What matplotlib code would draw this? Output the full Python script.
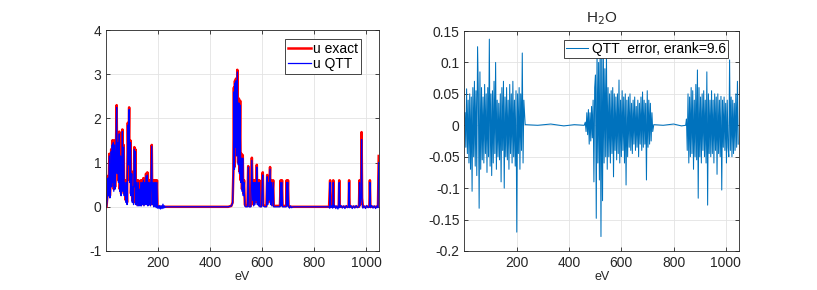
import numpy as np
import matplotlib
matplotlib.use("Agg")
from matplotlib import pyplot as plt
from matplotlib.ticker import FuncFormatter

# ---- left panel: spectrum (eV, value) vertices
u_exact = [
    (2, 0.0), (6, 0.3), (8, 0.7), (10, 0.3), (13, 1.2), (15, 0.25), (18, 0.6), (20, 1.3),
    (22, 0.5), (24, 1.5), (26, 0.6), (28, 1.5), (30, 0.4), (33, 1.5), (35, 0.45), (38, 1.2),
    (41, 2.3), (43, 0.8), (46, 1.5), (48, 0.6), (51, 1.7), (53, 0.4), (56, 1.2), (58, 0.3),
    (61, 0.9), (63, 1.75), (65, 0.4), (68, 1.4), (70, 0.3), (73, 0.6), (76, 0.15), (79, 0.6),
    (81, 0.1), (84, 1.9), (86, 1.0), (89, 2.25), (91, 0.6), (94, 1.5), (96, 0.3), (99, 0.8),
    (101, 0.15), (104, 0.5), (106, 0.1), (109, 1.35), (111, 0.5), (113, 1.3), (115, 0.1),
    (118, 0.6), (120, 0.05), (124, 0.6), (126, 0.05), (129, 0.45), (131, 0.05), (134, 0.6),
    (136, 0.05), (139, 0.6), (141, 0.1), (144, 0.65), (146, 0.05), (149, 0.6), (151, 0.1),
    (154, 0.75), (156, 0.1), (159, 0.78), (161, 0.05), (164, 0.6), (166, 0.1), (169, 0.6),
    (171, 0.05), (176, 1.4), (178, 0.1), (181, 0.6), (183, 0.05), (186, 0.6), (188, 0.05),
    (191, 0.6), (193, 0.02), (196, 0.6), (198, 0.02), (201, 0.0), (470, 0.0), (482, 0.02),
    (487, 0.1), (490, 0.8), (492, 2.7), (494, 0.9), (496, 2.85), (498, 1.4), (500, 2.9),
    (502, 1.2), (505, 3.1), (508, 1.0), (511, 2.45), (513, 0.8), (516, 2.4), (518, 0.6),
    (521, 1.2), (523, 0.4), (526, 1.17), (528, 0.3), (531, 0.6), (534, 0.05), (537, 0.02),
    (544, 0.02), (547, 0.92), (550, 0.02), (557, 0.02), (561, 1.11), (564, 0.2), (566, 0.6),
    (568, 0.05), (571, 0.6), (573, 0.1), (576, 0.6), (578, 0.2), (580, 0.95), (582, 0.1),
    (585, 0.6), (587, 0.05), (590, 0.6), (592, 0.02), (598, 0.02), (601, 0.6), (603, 0.78),
    (605, 0.05), (610, 0.02), (617, 0.02), (620, 0.72), (622, 0.1), (625, 0.6), (627, 0.2),
    (631, 0.9), (633, 0.1), (636, 0.6), (638, 0.05), (643, 0.6), (645, 0.02), (669, 0.02),
    (672, 0.6), (674, 0.05), (677, 0.6), (679, 0.02), (693, 0.02), (695, 0.6), (697, 0.05),
    (700, 0.6), (702, 0.02), (710, 0.0), (858, 0.0), (862, 0.6), (864, 0.0), (872, 0.0),
    (874, 0.6), (876, 0.0), (895, 0.0), (897, 0.6), (899, 0.0), (933, 0.0), (935, 0.6),
    (937, 0.0), (973, 0.0), (975, 0.6), (977, 0.05), (981, 0.3), (983, 1.69), (985, 0.2),
    (988, 0.0), (1013, 0.0), (1015, 0.6), (1017, 0.0), (1046, 0.0), (1049, 1.15),
]

u_qtt = [
    (2, 0.0), (6, 0.25), (8, 0.65), (10, 0.25), (13, 1.15), (15, 0.2), (18, 0.55), (20, 1.25),
    (22, 0.45), (24, 1.4), (26, 0.55), (28, 1.45), (30, 0.35), (33, 1.4), (35, 0.4), (38, 1.15),
    (41, 2.25), (43, 0.75), (46, 1.45), (48, 0.55), (51, 1.65), (53, 0.35), (56, 1.15), (58, 0.25),
    (61, 0.85), (63, 1.7), (65, 0.35), (68, 1.35), (70, 0.25), (73, 0.55), (76, 0.1), (79, 0.55),
    (81, 0.05), (84, 1.85), (86, 0.95), (89, 2.2), (91, 0.55), (94, 1.45), (96, 0.25), (99, 0.75),
    (101, 0.1), (104, 0.45), (106, 0.05), (109, 1.3), (111, 0.45), (113, 1.25), (115, 0.05),
    (118, 0.55), (120, 0.02), (124, 0.55), (126, 0.02), (129, 0.4), (131, 0.02), (134, 0.55),
    (136, 0.02), (139, 0.55), (141, 0.05), (144, 0.6), (146, 0.02), (149, 0.55), (151, 0.05),
    (154, 0.7), (156, 0.05), (159, 0.72), (161, 0.02), (164, 0.55), (166, 0.05), (169, 0.55),
    (171, 0.02), (176, 1.37), (178, 0.05), (181, 0.55), (183, 0.0), (186, 0.55), (188, 0.0),
    (191, 0.55), (193, -0.02), (196, 0.55), (198, -0.03), (201, 0.02), (204, -0.04),
    (207, 0.03), (210, -0.05), (213, 0.02), (216, -0.04), (219, 0.06), (222, -0.03),
    (225, 0.02), (228, -0.01), (232, 0.0), (470, 0.0), (482, 0.02), (487, 0.08), (490, 0.7),
    (492, 2.6), (494, 0.85), (496, 2.8), (498, 1.35), (500, 2.85), (502, 1.15), (505, 3.05),
    (508, 0.95), (511, 2.35), (513, 0.75), (516, 2.3), (518, 0.55), (521, 1.1), (523, 0.35),
    (526, 1.1), (528, 0.25), (531, 0.55), (534, 0.02), (537, 0.0), (544, 0.0), (547, 0.9),
    (550, 0.0), (557, 0.0), (561, 1.05), (564, 0.15), (566, 0.55), (568, 0.02), (571, 0.55),
    (573, 0.05), (576, 0.55), (578, 0.15), (580, 0.9), (582, 0.05), (585, 0.55), (587, 0.02),
    (590, 0.55), (592, 0.0), (598, 0.0), (601, 0.55), (603, 0.72), (605, 0.02), (610, 0.0),
    (617, 0.0), (620, 0.68), (622, 0.05), (625, 0.55), (627, 0.15), (631, 0.85), (633, 0.05),
    (636, 0.55), (638, 0.02), (643, 0.55), (645, 0.0), (669, 0.0), (672, 0.55), (674, 0.02),
    (677, 0.55), (679, 0.0), (693, 0.0), (695, 0.55), (697, 0.02), (700, 0.55), (702, 0.0),
    (706, -0.03), (710, 0.02), (714, -0.02), (720, 0.0), (858, 0.0), (860, -0.03),
    (862, 0.55), (864, -0.02), (868, 0.02), (872, -0.03), (874, 0.55), (876, -0.01),
    (880, 0.03), (884, -0.04), (888, 0.02), (892, -0.05), (895, 0.0), (897, 0.55), (899, -0.02),
    (904, 0.03), (909, -0.03), (914, 0.02), (919, -0.04), (924, 0.03), (929, -0.02),
    (933, 0.0), (935, 0.55), (937, -0.02), (942, 0.03), (947, -0.04), (952, 0.02),
    (957, -0.03), (962, 0.03), (967, -0.02), (973, 0.0), (975, 0.55), (977, 0.02), (981, 0.25),
    (983, 1.52), (985, 0.15), (988, -0.03), (993, 0.02), (998, -0.04), (1003, 0.03),
    (1008, -0.02), (1013, 0.0), (1015, 0.55), (1017, -0.02), (1022, 0.03), (1027, -0.03),
    (1032, 0.02), (1037, -0.04), (1042, 0.02), (1046, -0.02), (1049, 1.0),
]

# ---- right panel: QTT error, sampled every 3 eV inside the three active bands
err_a_start, err_b_start, err_c_start, err_step = 2, 462, 849, 3
err_a = [
    0.02, -0.035, 0.058, -0.045, 0.04, -0.06, 0.05, -0.07, 0.045, -0.105,
    0.06, -0.05, 0.07, -0.065, 0.055, -0.08, 0.125, 0.05, -0.132, 0.085,
    -0.07, 0.06, -0.055, 0.045, -0.06, 0.065, -0.045, 0.05, -0.075, 0.06,
    -0.05, 0.137, -0.065, 0.05, -0.08, 0.055, -0.06, 0.07, -0.045, 0.1,
    -0.07, 0.04, -0.05, 0.035, -0.055, 0.05, -0.09, 0.06, -0.04, 0.07,
    -0.1, 0.045, -0.05, 0.06, -0.055, 0.04, -0.07, 0.065, -0.045, 0.05,
    -0.06, 0.07, -0.05, 0.04, -0.065, 0.055, -0.17, 0.05, -0.045, 0.06,
    -0.07, 0.05, -0.04, 0.115, -0.06, 0.04,
]
err_b = [
    0.005, -0.01, 0.02, -0.015, 0.025, -0.03, 0.02, -0.025, 0.03, -0.02,
    0.04, -0.09, 0.06, 0.08, -0.148, 0.12, -0.06, 0.1, -0.087, 0.13,
    -0.177, 0.11, -0.12, 0.12, -0.06, 0.09, -0.05, 0.11, -0.07, 0.06,
    -0.05, 0.05, -0.06, 0.055, -0.045, 0.06, -0.082, 0.05, -0.04, 0.045,
    -0.055, 0.05, -0.045, 0.072, -0.06, 0.04, -0.05, 0.055, -0.04, 0.045,
    -0.06, 0.05, -0.095, 0.04, -0.05, 0.045, -0.035, 0.05, -0.04, 0.035,
    -0.045, 0.04, -0.03, 0.045, -0.04, 0.03, -0.035, 0.04, -0.05, 0.035,
    -0.03, 0.045, -0.04, 0.053, -0.035, 0.04, -0.03, 0.035, -0.087, 0.055,
    -0.035, 0.04, -0.03, 0.035, -0.025, 0.02, -0.01,
]
err_c = [
    0.01, -0.04, 0.05, -0.06, 0.045, -0.05, 0.06, -0.045, 0.055, -0.07,
    0.04, -0.05, 0.065, -0.055, 0.088, -0.116, 0.06, -0.05, 0.045, -0.06,
    0.05, -0.04, 0.055, -0.05, 0.04, -0.06, 0.085, -0.127, 0.05, -0.045,
    0.04, -0.05, 0.055, -0.045, 0.04, -0.06, 0.05, -0.04, 0.045, -0.078,
    0.05, -0.045, 0.04, -0.05, 0.046, -0.103, 0.04, -0.035, 0.045, -0.04,
    0.035, -0.06, 0.04, -0.035, -0.05, 0.104, -0.04, 0.045, -0.05, 0.04,
    -0.045, 0.035, -0.04, 0.05, -0.035, 0.07, -0.03,
]
# quiet stretches between the bands
err_flat_1 = [(232, 0.001), (280, 0.0), (330, 0.002), (380, -0.001), (420, 0.001), (458, 0.0)]
err_flat_2 = [(724, 0.001), (760, 0.0), (800, 0.002), (830, -0.001), (846, 0.0)]

xticks = [200, 400, 600, 800, 1000]
left_yticks = [-1, 0, 1, 2, 3, 4]
right_yticks = [-0.2, -0.15, -0.1, -0.05, 0, 0.05, 0.1, 0.15]


def matlab_axes(ax):
    ax.grid(True, color="#e3e3e3", linewidth=0.6)
    ax.set_axisbelow(True)
    ax.tick_params(direction="in", length=3, top=True, right=True, colors="#262626",
                   labelcolor="#262626", labelsize=10, width=0.6)
    for s in ax.spines.values():
        s.set_color("#262626")
        s.set_linewidth(0.6)
    ax.set_xticks(xticks)
    ax.set_xlim(0, 1050)
    ax.set_xlabel("eV", fontsize=9, labelpad=1, color="#262626")
    ax.yaxis.set_major_formatter(FuncFormatter(lambda v, p: "%g" % v))


def main():
    plt.rcParams["font.family"] = ["Liberation Sans", "DejaVu Sans"]
    plt.rcParams["axes.unicode_minus"] = False
    fig = plt.figure(figsize=(8.17, 2.9), dpi=100)

    ax1 = fig.add_axes([106 / 817, 39 / 290, 273 / 817, 221 / 290])
    ex = np.array(u_exact).T
    qt = np.array(u_qtt).T
    ax1.plot(ex[0], ex[1], color="#ff0000", lw=1.8, label="u exact")
    ax1.plot(qt[0], qt[1], color="#0000ff", lw=0.9, label="u QTT")
    ax1.set_ylim(-1, 4)
    ax1.set_yticks(left_yticks)
    matlab_axes(ax1)
    leg = ax1.legend(loc="upper right", bbox_to_anchor=(0.935, 0.96), fontsize=10,
                     fancybox=False, framealpha=1, edgecolor="#262626",
                     handlelength=1.6, handletextpad=0.15, borderpad=0.25,
                     labelspacing=0.05, borderaxespad=0)
    leg.get_frame().set_linewidth(0.6)

    ax2 = fig.add_axes([464.5 / 817, 39 / 290, 274.5 / 817, 220 / 290])
    xa = np.arange(len(err_a)) * err_step + err_a_start
    xb = np.arange(len(err_b)) * err_step + err_b_start
    xc = np.arange(len(err_c)) * err_step + err_c_start
    f1 = np.array(err_flat_1).T
    f2 = np.array(err_flat_2).T
    x_all = np.concatenate([xa, f1[0], xb, f2[0], xc])
    y_all = np.concatenate([err_a, f1[1], err_b, f2[1], err_c])
    ax2.plot(x_all, y_all, color="#0072BD", lw=0.75, label="QTT  error, erank=9.6")
    ax2.set_ylim(-0.2, 0.15)
    ax2.set_yticks(right_yticks)
    matlab_axes(ax2)
    ax2.set_title("H$_2$O", fontsize=11, pad=6, color="#262626")
    leg2 = ax2.legend(loc="upper right", bbox_to_anchor=(0.96, 0.96), fontsize=10,
                      fancybox=False, framealpha=1, edgecolor="#262626",
                      handlelength=1.6, handletextpad=0.25, borderpad=0.15,
                      borderaxespad=0)
    leg2.get_frame().set_linewidth(0.6)

    fig.savefig("out.png", dpi=100)


if __name__ == "__main__":
    main()
